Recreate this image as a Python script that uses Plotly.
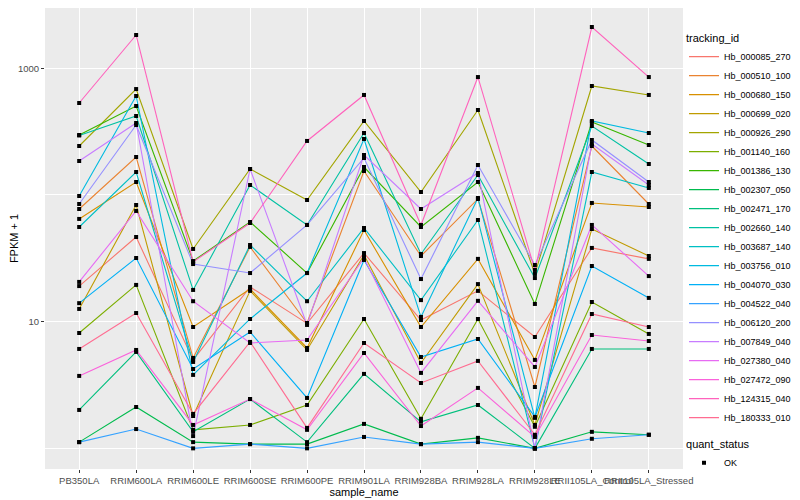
import plotly.graph_objects as go

samples = ["PB350LA", "RRIM600LA", "RRIM600LE", "RRIM600SE", "RRIM600PE",
           "RRIM901LA", "RRIM928BA", "RRIM928LA", "RRIM928LE",
           "RRII105LA_Control", "RRII105LA_Stressed"]

tracking_ids = ["Hb_000085_270", "Hb_000510_100", "Hb_000680_150", "Hb_000699_020",
                "Hb_000926_290", "Hb_001140_160", "Hb_001386_130", "Hb_002307_050",
                "Hb_002471_170", "Hb_002660_140", "Hb_003687_140", "Hb_003756_010",
                "Hb_004070_030", "Hb_004522_040", "Hb_006120_200", "Hb_007849_040",
                "Hb_027380_040", "Hb_027472_090", "Hb_124315_040", "Hb_180333_010"]

colors = ["#F8766D", "#EA8331", "#D89000", "#C09B00", "#A3A500", "#7CAE00", "#39B600",
          "#00BB4E", "#00BF7D", "#00C1A3", "#00BFC4", "#00BAE0", "#00B0F6", "#35A2FF",
          "#9590FF", "#C77CFF", "#E76BF3", "#FA62DB", "#FF62BC", "#FF6C91"]

# FPKM + 1, in the order of `samples`
Hb_000085_270 = [19.1, 46.6, 4.99, 18.8, 9.7, 34.8, 10.3, 17.5, 7.57, 38.2, 31.3]
Hb_000510_100 = [77.5, 199.5, 5.17, 38.9, 9.76, 154.7, 33.0, 93.0, 3.05, 243.6, 84.9]
Hb_000680_150 = [64.7, 126.6, 9.08, 18.1, 6.20, 52.9, 9.08, 31.3, 4.99, 86.5, 80.4]
Hb_000699_020 = [12.6, 83.4, 1.80, 17.5, 5.98, 33.6, 4.72, 19.8, 1.53, 53.9, 33.0]
Hb_000926_290 = [243.6, 686, 37.5, 160.4, 91.3, 383.8, 105.6, 468.8, 23.8, 725, 616]
Hb_001140_160 = [8.14, 19.5, 1.40, 1.53, 2.20, 10.5, 1.71, 10.5, 1.48, 14.3, 8.00]
Hb_001386_130 = [297.6, 504, 30.1, 61.2, 24.2, 166.3, 55.9, 126.6, 13.8, 377, 248]
Hb_002307_050 = [1.12, 2.12, 1.12, 1.08, 1.08, 1.56, 1.08, 1.21, 1.0, 1.35, 1.28]
Hb_002471_170 = [2.01, 5.77, 1.35, 2.45, 1.12, 3.87, 1.62, 2.20, 1.0, 6.09, 6.09]
Hb_002660_140 = [295, 420.4, 17.8, 119.9, 58.0, 308.6, 34.2, 143.8, 22.1, 350.4, 175.7]
Hb_003687_140 = [55.9, 151.8, 4.81, 40.3, 14.5, 54.9, 14.8, 63.5, 1.0, 151.8, 113.6]
Hb_003756_010 = [98.2, 604.5, 3.80, 10.5, 24.2, 276.7, 10.9, 94.7, 1.74, 383.8, 308.6]
Hb_004070_030 = [14.0, 31.8, 4.23, 8.29, 2.50, 30.7, 5.26, 7.30, 1.77, 27.5, 15.4]
Hb_004522_040 = [1.12, 1.42, 1.0, 1.08, 1.0, 1.23, 1.08, 1.12, 1.0, 1.19, 1.28]
Hb_006120_200 = [84.9, 356.8, 28.5, 24.2, 58.0, 195.9, 21.7, 172.5, 28.0, 271.8, 126.6]
Hb_007849_040 = [185.5, 370.2, 1.25, 160.4, 9.42, 206.9, 77.5, 149.1, 1.0, 252.7, 119.9]
Hb_027380_040 = [20.6, 74.8, 14.5, 6.79, 7.17, 31.8, 3.94, 14.6, 4.39, 58.0, 22.9]
Hb_027472_090 = [3.73, 5.98, 1.53, 2.45, 1.40, 5.66, 1.50, 3.00, 1.23, 7.85, 7.04]
Hb_124315_040 = [532, 1831, 29.6, 60.1, 267, 616, 58.0, 853, 25.6, 2118, 853]
Hb_180333_010 = [6.09, 11.7, 1.87, 6.92, 1.45, 6.79, 3.28, 4.90, 1.28, 11.5, 9.08]

series = [Hb_000085_270, Hb_000510_100, Hb_000680_150, Hb_000699_020, Hb_000926_290,
          Hb_001140_160, Hb_001386_130, Hb_002307_050, Hb_002471_170, Hb_002660_140,
          Hb_003687_140, Hb_003756_010, Hb_004070_030, Hb_004522_040, Hb_006120_200,
          Hb_007849_040, Hb_027380_040, Hb_027472_090, Hb_124315_040, Hb_180333_010]

fig = go.Figure()
for tid, col, vals in zip(tracking_ids, colors, series):
    fig.add_trace(go.Scatter(x=samples, y=vals, mode="lines", name=tid,
                             line=dict(color=col, width=1.1), legend="legend",
                             hoverinfo="skip"))

pts_x, pts_y = [], []
for vals in series:
    pts_x += samples
    pts_y += vals
fig.add_trace(go.Scatter(x=pts_x, y=pts_y, mode="markers", name="OK",
                         marker=dict(color="black", size=4, symbol="square"),
                         legend="legend2", hoverinfo="skip"))

font_family = "Liberation Sans, Arial, sans-serif"
# the page body adds an 8px offset, so the figure is 792x492
fig.update_layout(
    width=792, height=492,
    margin=dict(l=37, r=117, t=0, b=31, autoexpand=False),
    paper_bgcolor="white", plot_bgcolor="#EBEBEB",
    font=dict(family=font_family, size=11, color="black"),
    showlegend=True,
    xaxis=dict(type="category", categoryorder="array", categoryarray=samples,
               range=[-0.6, 10.6], showgrid=True, gridcolor="white", gridwidth=1.1,
               ticks="outside", ticklen=3, tickcolor="#333333", tickwidth=1,
               tickangle=0, tickfont=dict(size=9.5, color="#4D4D4D"),
               title=dict(text="sample_name", font=dict(size=11), standoff=0),
               zeroline=False, showline=False, automargin=False),
    yaxis=dict(type="log", range=[-0.163, 3.476], tickmode="array",
               tickvals=[10, 1000], ticktext=["10", "1000"],
               showgrid=True, gridcolor="white", gridwidth=1.1,
               minor=dict(tickmode="array", tickvals=[1, 100], showgrid=True,
                          gridcolor="white", gridwidth=0.55, ticks=""),
               ticks="outside", ticklen=3, tickcolor="#333333", tickwidth=1,
               tickfont=dict(size=9.5, color="#4D4D4D"),
               title=dict(text="FPKM + 1", font=dict(size=11), standoff=6),
               zeroline=False, showline=False, automargin=False),
    legend=dict(title=dict(text="tracking_id", font=dict(size=11)),
                x=1.0016, xanchor="left", y=0.957, yanchor="top",
                font=dict(size=9), bgcolor="rgba(0,0,0,0)", itemwidth=30,
                tracegroupgap=0),
    legend2=dict(title=dict(text="quant_status", font=dict(size=11)),
                 x=1.0016, xanchor="left", y=0.076, yanchor="top",
                 font=dict(size=9), bgcolor="rgba(0,0,0,0)", itemwidth=30),
)

fig.write_html("out.html", config={"displayModeBar": False})
